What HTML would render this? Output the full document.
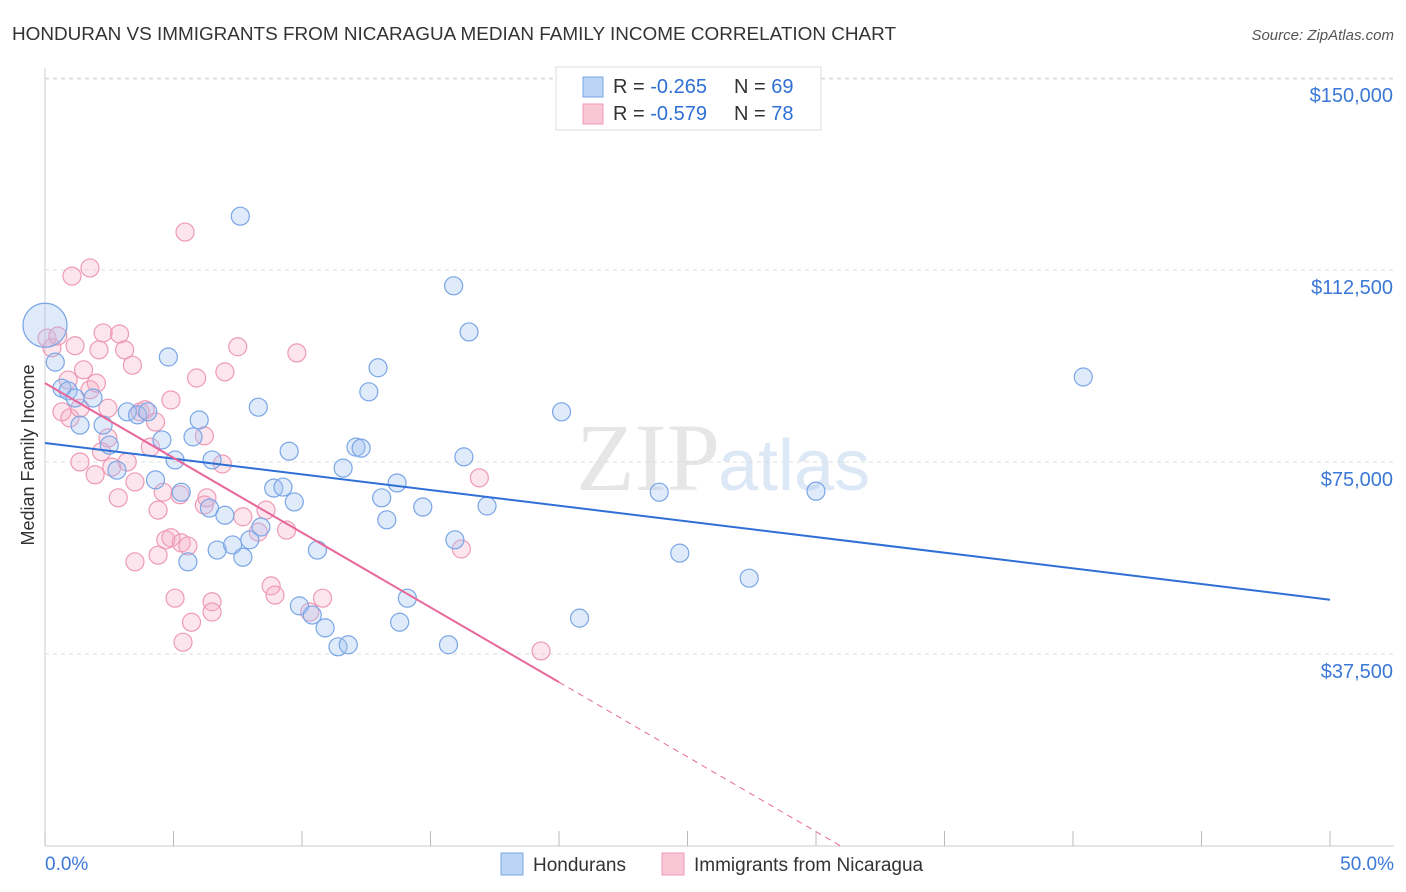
<!DOCTYPE html>
<html><head><meta charset="utf-8"><style>
body{margin:0;background:#fff;font-family:"Liberation Sans",sans-serif;}
svg{display:block}
</style></head><body>
<svg id="chart" width="1406" height="892" xmlns="http://www.w3.org/2000/svg">
<text x="12" y="40" font-size="18" fill="#333" textLength="884" lengthAdjust="spacingAndGlyphs">HONDURAN VS IMMIGRANTS FROM NICARAGUA MEDIAN FAMILY INCOME CORRELATION CHART</text>
<text x="1394" y="40" font-size="15" fill="#555" text-anchor="end" font-style="italic">Source: ZipAtlas.com</text>
<text x="720" y="490" font-size="96" fill="#e6e6e6" text-anchor="end" font-family="Liberation Serif">ZIP</text>
<text x="718" y="490" font-size="72" fill="#dce8f6">atlas</text>
<g id="grid"></g><g id="axes"></g><g id="pts"></g><g id="trend"></g>
<text transform="translate(34,455) rotate(-90)" font-size="18" fill="#333" text-anchor="middle">Median Family Income</text>
<g>
<rect x="556" y="67" width="265" height="63" fill="#fff" stroke="#ddd"/>
<rect x="583" y="77" width="20" height="20" fill="#bcd4f6" stroke="#7aa6e6"/>
<rect x="583" y="104" width="20" height="20" fill="#f9c6d6" stroke="#ee9ab5"/>
<text x="613" y="93" font-size="20" fill="#333">R = <tspan fill="#2f6fd6">-0.265</tspan><tspan x="734">N = </tspan><tspan fill="#2f6fd6">69</tspan></text>
<text x="613" y="120" font-size="20" fill="#333">R = <tspan fill="#2f6fd6">-0.579</tspan><tspan x="734">N = </tspan><tspan fill="#2f6fd6">78</tspan></text>
</g>
<g>
<rect x="501" y="853" width="22" height="22" fill="#bcd4f6" stroke="#7aa6e6"/>
<text x="533" y="871" font-size="19" fill="#333">Hondurans</text>
<rect x="662" y="853" width="22" height="22" fill="#f9c6d6" stroke="#ee9ab5"/>
<text x="694" y="871" font-size="19" fill="#333">Immigrants from Nicaragua</text>
</g>
</svg>
<script>
const xTicks=[0,5,10,15,20,25,30,35,40,45,50];
const yTicks=[37.5,75,112.5,150];
const yTickLabels=["$37,500","$75,000","$112,500","$150,000"];
const blueX=[0,0.4,0.66,0.9,1.17,1.87,1.36,2.26,2.5,2.8,3.2,3.6,4.0,4.55,4.8,5.06,4.3,5.3,5.56,5.76,6.0,6.5,6.4,6.7,7.0,7.3,7.6,7.7,7.97,8.3,8.4,8.9,9.26,9.5,9.7,9.9,10.4,10.9,10.6,11.4,11.8,11.6,12.1,12.3,12.6,12.96,13.1,13.3,13.7,13.8,14.1,14.7,15.7,15.9,15.95,16.3,16.5,17.2,20.1,20.8,23.9,24.7,27.4,30.0,40.4];
const blueY=[101.7,94.5,89.4,88.9,87.5,87.5,82.2,82.2,78.3,73.4,84.8,84.2,84.8,79.3,95.5,75.4,71.5,69.1,55.5,79.9,83.2,75.4,66.0,57.8,64.6,58.8,123.0,56.4,59.8,85.7,62.3,69.9,70.1,77.1,67.2,46.9,45.1,42.6,57.8,38.9,39.3,73.8,77.9,77.7,88.7,93.4,68.0,63.7,70.9,43.7,48.4,66.2,39.3,109.4,59.8,76.0,100.4,66.4,84.8,44.5,69.1,57.2,52.3,69.3,91.6];
const pinkX=[0.08,0.27,0.5,1.05,1.75,0.9,0.66,0.97,1.17,1.36,1.5,1.75,2.0,2.1,2.26,1.36,1.95,2.2,2.45,2.6,2.45,2.85,2.9,3.1,3.2,3.4,3.5,3.5,3.7,3.9,4.1,4.3,4.4,4.4,4.7,4.6,4.9,4.9,5.06,5.25,5.3,5.45,5.37,5.56,5.7,5.9,6.2,6.2,6.3,6.5,6.5,6.9,7.0,7.5,7.7,8.3,8.6,8.8,8.95,9.4,9.8,10.3,10.8,16.9,16.2,19.3];
const pinkY=[99.2,97.3,99.6,111.3,112.9,91.0,84.8,83.6,97.7,85.5,93.0,89.1,90.4,96.9,100.2,75.0,72.5,77.0,79.7,74.0,85.5,68.0,100.0,96.9,75.0,93.9,71.1,55.5,84.8,85.2,77.9,82.8,65.6,56.8,59.8,69.1,87.1,60.2,48.4,68.6,59.2,119.9,39.8,58.6,43.7,91.4,80.1,66.6,68.0,47.7,45.7,74.6,92.6,97.5,64.3,61.3,65.6,50.8,49.0,61.7,96.3,45.7,48.4,71.9,58.0,38.1];
const blueTrend=[78.7,48.1];      // y at x=0 and x=50
const pinkTrend=[90.4,32.0,20];   // y at x=0, y at solid end, solid end x
const NS="http://www.w3.org/2000/svg";
const sx=v=>45+v*25.7, sy=v=>846-v/0.1953;
function mk(t,a,p){const e=document.createElementNS(NS,t);for(const k in a)e.setAttribute(k,a[k]);p.appendChild(e);return e;}
const grid=document.getElementById('grid'),axes=document.getElementById('axes'),pts=document.getElementById('pts'),tr=document.getElementById('trend');
yTicks.forEach((v,i)=>{
 const g=mk('line',{x1:45,x2:1394,y1:sy(v),y2:sy(v),stroke:'#ddd','stroke-dasharray':'4,4'},grid);
 
 
 const t=mk('text',{x:1393,y:sy(v)+24,'font-size':20,fill:'#3b78d8','text-anchor':'end'},axes);
 t.textContent=yTickLabels[i];
 
 
});
mk('line',{x1:45,x2:1394,y1:79,y2:79,stroke:'#ddd','stroke-dasharray':'4,4'},grid);
mk('line',{x1:45,x2:45,y1:68,y2:846,stroke:'#ccc'},axes);
mk('line',{x1:45,x2:1394,y1:846,y2:846,stroke:'#ccc'},axes);
xTicks.forEach(v=>{const l=mk('line',{x1:sx(v),x2:sx(v),y1:831,y2:846,stroke:'#bbb'},axes);
 
 });
let t=mk('text',{x:45,y:870,'font-size':19,fill:'#3b78d8'},axes);t.textContent='0.0%';


t=mk('text',{x:1394,y:870,'font-size':19,fill:'#3b78d8','text-anchor':'end'},axes);t.textContent='50.0%';


pinkX.forEach((x,i)=>{const c=mk('circle',{cx:sx(x),cy:sy(pinkY[i]),r:9,fill:'rgba(244,170,195,0.3)',stroke:'#ee9ab5','stroke-width':1.2},pts);
 
 });
blueX.forEach((x,i)=>{const c=mk('circle',{cx:sx(x),cy:sy(blueY[i]),r:i===0?22:9,fill:'rgba(164,196,240,0.35)',stroke:'#7aa6e6','stroke-width':1.2},pts);
 
 });
let l=mk('line',{x1:sx(0),y1:sy(blueTrend[0]),x2:sx(50),y2:sy(blueTrend[1]),stroke:'#2f6fd6','stroke-width':2},tr);


l=mk('line',{x1:sx(0),y1:sy(pinkTrend[0]),x2:sx(pinkTrend[2]),y2:sy(pinkTrend[1]),stroke:'#e8679a','stroke-width':2},tr);


const slope=(pinkTrend[1]-pinkTrend[0])/pinkTrend[2], xz=-pinkTrend[0]/slope;
l=mk('line',{x1:sx(pinkTrend[2]),y1:sy(pinkTrend[1]),x2:sx(xz),y2:sy(0),stroke:'#e8679a','stroke-width':1,'stroke-dasharray':'6,5'},tr);


</script>
</body></html>
